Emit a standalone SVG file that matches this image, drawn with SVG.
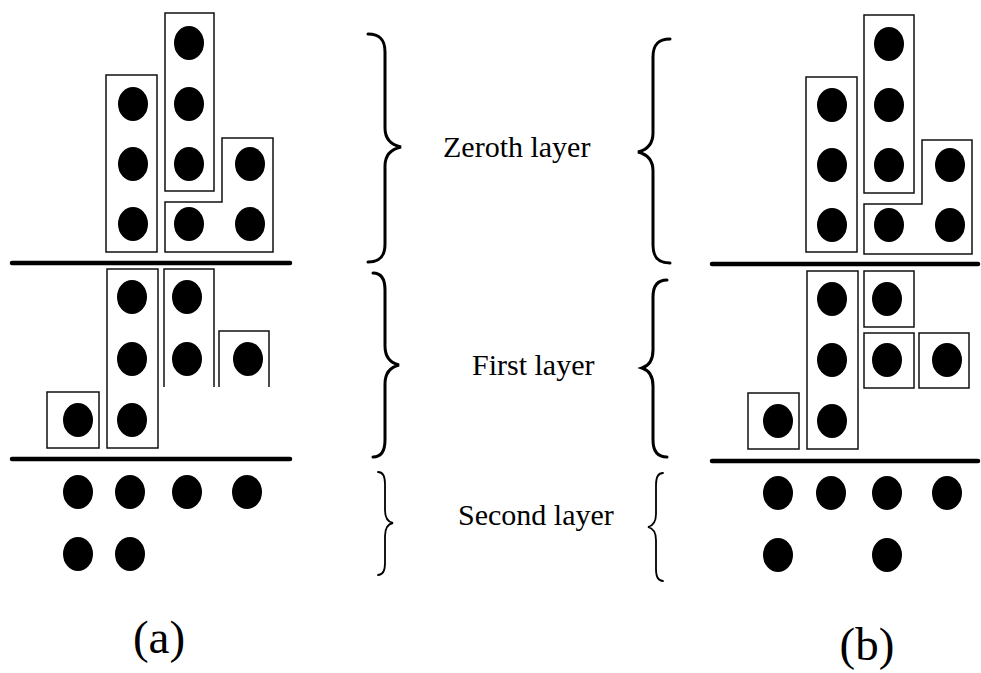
<svg xmlns="http://www.w3.org/2000/svg" width="981" height="673" viewBox="0 0 981 673">
  <style>
    .dot { fill: #000; }
    .box { fill: none; stroke: #111; stroke-width: 1.5; }
    .rule { stroke: #000; stroke-width: 4.5; stroke-linecap: round; }
    .brace { fill: none; stroke: #000; stroke-width: 3; stroke-linecap: round; }
    .brace.thin { stroke-width: 1.8; }
    .label { font-family: "Liberation Serif", "Times New Roman", serif; font-size: 30px; fill: #000; }
    .tag { font-family: "Liberation Serif", "Times New Roman", serif; font-size: 47px; fill: #000; text-anchor: middle; }
  </style>
  <defs>
    <ellipse id="d" rx="15" ry="17"/>
  </defs>
  <rect width="981" height="673" fill="#fff"/>

  <!-- Panel (a) -->
  <g id="a-zeroth">
    <g id="a-z-col1">
      <rect class="box" x="106" y="75" width="51" height="177"/>
      <use href="#d" class="dot" x="133" y="104"/>
      <use href="#d" class="dot" x="133" y="164"/>
      <use href="#d" class="dot" x="133" y="224"/>
    </g>
    <g id="a-z-col2">
      <rect class="box" x="165" y="13" width="49" height="178"/>
      <use href="#d" class="dot" x="189" y="43"/>
      <use href="#d" class="dot" x="189" y="104"/>
      <use href="#d" class="dot" x="189" y="164"/>
    </g>
    <g id="a-z-ell">
      <path class="box" d="M165,202 L222,202 L222,138 L273,138 L273,252 L165,252 Z"/>
      <use href="#d" class="dot" x="189" y="224"/>
      <use href="#d" class="dot" x="250" y="164"/>
      <use href="#d" class="dot" x="250" y="224"/>
    </g>
  </g>
  <line class="rule" x1="12" y1="263" x2="290" y2="263"/>

  <g id="a-first">
    <g id="a-f-single">
      <rect class="box" x="47" y="392" width="52" height="56"/>
      <use href="#d" class="dot" x="78" y="420"/>
    </g>
    <g id="a-f-col1">
      <rect class="box" x="107" y="269" width="51" height="179"/>
      <use href="#d" class="dot" x="132" y="297"/>
      <use href="#d" class="dot" x="132" y="359"/>
      <use href="#d" class="dot" x="132" y="420"/>
    </g>
    <g id="a-f-col2">
      <path class="box" d="M164,387 L164,269 L214,269 L214,387"/>
      <use href="#d" class="dot" x="187" y="297"/>
      <use href="#d" class="dot" x="187" y="359"/>
    </g>
    <g id="a-f-col3">
      <path class="box" d="M219,387 L219,331 L269,331 L269,387"/>
      <use href="#d" class="dot" x="248" y="359"/>
    </g>
  </g>
  <line class="rule" x1="12" y1="459" x2="290" y2="459"/>

  <g id="a-second">
    <use href="#d" class="dot" x="78" y="492"/>
    <use href="#d" class="dot" x="130" y="492"/>
    <use href="#d" class="dot" x="187" y="492"/>
    <use href="#d" class="dot" x="247" y="492"/>
    <use href="#d" class="dot" x="78" y="554"/>
    <use href="#d" class="dot" x="130" y="554"/>
  </g>
  <text class="tag" x="159" y="653">(a)</text>

  <!-- Layer braces and names -->
  <g id="braces">
    <path class="brace" d="M368,34 C380,34 385,40 385,52 L385,128 C385,140 392,145 401,147 C392,149 385,154 385,166 L385,244 C385,256 380,262 368,262"/>
    <path class="brace" d="M373,273 C381,273 385,279 385,290 L385,346 C385,357 391,363 399,365 C391,367 385,373 385,384 L385,440 C385,451 381,457 373,457"/>
    <path class="brace thin" d="M378,472 C383,472 385,476 385,484 L385,510 C385,518 388,522 393,523 C388,524 385,528 385,536 L385,563 C385,571 383,575 378,575"/>
    <path class="brace" d="M670,39 C658,39 653,45 653,57 L653,133 C653,145 646,150 638,152 C646,154 653,159 653,171 L653,245 C653,257 658,263 670,263"/>
    <path class="brace" d="M667,280 C657,280 653,286 653,297 L653,350 C653,361 648,366 642,368 C648,370 653,375 653,386 L653,440 C653,451 657,457 667,457"/>
    <path class="brace thin" d="M663,473 C658,473 656,477 656,485 L656,514 C656,522 652,526 648,527 C652,528 656,532 656,540 L656,569 C656,577 658,581 663,581"/>
  </g>
  <text class="label" x="443" y="157">Zeroth layer</text>
  <text class="label" x="472" y="375">First layer</text>
  <text class="label" x="458" y="525">Second layer</text>

  <!-- Panel (b) -->
  <g id="b-zeroth">
    <g id="b-z-col1">
      <rect class="box" x="806" y="77" width="51" height="175"/>
      <use href="#d" class="dot" x="832" y="105"/>
      <use href="#d" class="dot" x="832" y="165"/>
      <use href="#d" class="dot" x="832" y="225"/>
    </g>
    <g id="b-z-col2">
      <rect class="box" x="864" y="15" width="50" height="178"/>
      <use href="#d" class="dot" x="889" y="44"/>
      <use href="#d" class="dot" x="889" y="105"/>
      <use href="#d" class="dot" x="889" y="165"/>
    </g>
    <g id="b-z-ell">
      <path class="box" d="M864,204 L922,204 L922,140 L972,140 L972,254 L864,254 Z"/>
      <use href="#d" class="dot" x="889" y="225"/>
      <use href="#d" class="dot" x="950" y="165"/>
      <use href="#d" class="dot" x="950" y="225"/>
    </g>
  </g>
  <line class="rule" x1="712" y1="264" x2="978" y2="264"/>

  <g id="b-first">
    <g id="b-f-single">
      <rect class="box" x="748" y="393" width="51" height="56"/>
      <use href="#d" class="dot" x="778" y="421"/>
    </g>
    <g id="b-f-col1">
      <rect class="box" x="807" y="271" width="51" height="178"/>
      <use href="#d" class="dot" x="832" y="299"/>
      <use href="#d" class="dot" x="832" y="360"/>
      <use href="#d" class="dot" x="832" y="421"/>
    </g>
    <g id="b-f-top">
      <rect class="box" x="864" y="271" width="50" height="56"/>
      <use href="#d" class="dot" x="887" y="299"/>
    </g>
    <g id="b-f-mid">
      <rect class="box" x="864" y="333" width="50" height="55"/>
      <use href="#d" class="dot" x="887" y="360"/>
    </g>
    <g id="b-f-right">
      <rect class="box" x="919" y="333" width="50" height="55"/>
      <use href="#d" class="dot" x="947" y="360"/>
    </g>
  </g>
  <line class="rule" x1="712" y1="461" x2="978" y2="461"/>

  <g id="b-second">
    <use href="#d" class="dot" x="778" y="493"/>
    <use href="#d" class="dot" x="831" y="493"/>
    <use href="#d" class="dot" x="887" y="493"/>
    <use href="#d" class="dot" x="947" y="493"/>
    <use href="#d" class="dot" x="778" y="555"/>
    <use href="#d" class="dot" x="887" y="555"/>
  </g>
  <text class="tag" x="867" y="660">(b)</text>
</svg>
